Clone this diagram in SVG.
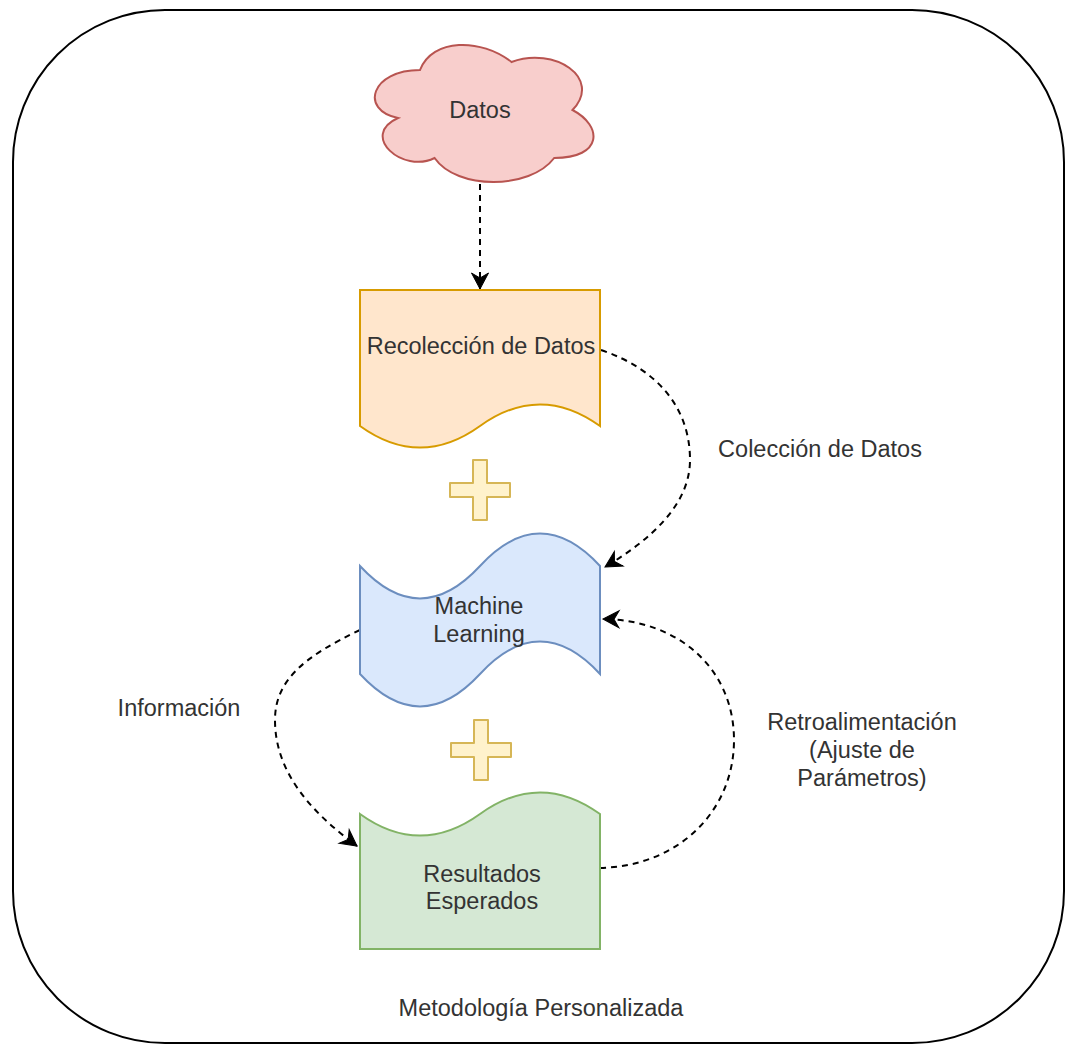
<svg xmlns="http://www.w3.org/2000/svg" width="1066" height="1044" viewBox="0 0 1066 1044">
<style>
  .lbl { font-family: "Liberation Sans", Arial, Helvetica, sans-serif; font-size: 23.5px; fill: #333333; text-anchor: middle; }
  .conn { fill: none; stroke: #000000; stroke-width: 2; stroke-dasharray: 6 5; }
  .plus { fill: #fff2cc; stroke: #d6b656; stroke-width: 2; stroke-linejoin: round; }
</style>
<defs>
  <marker id="arr" markerUnits="userSpaceOnUse" markerWidth="22" markerHeight="22" refX="0" refY="0" viewBox="-18 -11 22 22" orient="auto">
    <path d="M0,0 L-16,-8.5 L-11,0 L-16,8.5 Z" fill="#000000" stroke="#000000" stroke-width="1"/>
  </marker>
</defs>
<rect width="1066" height="1044" fill="#ffffff"/>
<g id="container">
  <rect x="13" y="10" width="1051" height="1033" rx="152" ry="152" fill="#ffffff" stroke="#000000" stroke-width="2"/>
  <text class="lbl" x="541" y="1016">Metodología Personalizada</text>
</g>
<g id="connectors">
  <path class="conn" d="M480,184 L480,289" marker-end="url(#arr)"/>
  <path class="conn" d="M601,350 C660,370 690,410 690,460 C690,505 650,540 605,567" marker-end="url(#arr)"/>
  <path class="conn" d="M360,630 C305,656 275,680 275,720 C275,775 315,815 357,846" marker-end="url(#arr)"/>
  <path class="conn" d="M600,868 C680,866 734,810 734,740 C734,670 680,620 603,619" marker-end="url(#arr)"/>
  <text class="lbl" x="820" y="457">Colección de Datos</text>
  <text class="lbl" x="179" y="716">Información</text>
  <text class="lbl" x="862" y="730">Retroalimentación</text>
  <text class="lbl" x="862" y="758">(Ajuste de</text>
  <text class="lbl" x="862" y="786">Parámetros)</text>
</g>
<g id="datos">
  <path d="M420,70 C371.2,70 359,110 398,118 C359,135.6 402.9,174 434.6,158 C456.6,190 529.8,190 554.2,158 C603,158 603,126 572.5,110 C603,78 554.2,46 511.5,62 C481,38 432.2,38 420,70 Z" fill="#f8cecc" stroke="#b85450" stroke-width="2"/>
  <text class="lbl" x="480" y="118">Datos</text>
</g>
<g id="recoleccion">
  <path d="M360,290 L600,290 L600,426 Q540,382.8 480,426 Q420,469.2 360,426 Z" fill="#ffe6cc" stroke="#d79b00" stroke-width="2"/>
  <text class="lbl" x="481" y="354">Recolección de Datos</text>
</g>
<g id="plus1">
  <path class="plus" d="M473,460 L487,460 L487,483 L510,483 L510,497 L487,497 L487,520 L473,520 L473,497 L450,497 L450,483 L473,483 Z"/>
</g>
<g id="machine-learning">
  <path d="M360,566 Q420,630.8 480,566 Q540,501.2 600,566 L600,674 Q540,609.2 480,674 Q420,738.8 360,674 Z" fill="#dae8fc" stroke="#6c8ebf" stroke-width="2"/>
  <text class="lbl" x="479" y="614">Machine</text>
  <text class="lbl" x="479" y="642">Learning</text>
</g>
<g id="plus2">
  <path class="plus" d="M474,720 L488,720 L488,743 L511,743 L511,757 L488,757 L488,780 L474,780 L474,757 L451,757 L451,743 L474,743 Z"/>
</g>
<g id="resultados">
  <path d="M360,814 Q420,857.2 480,814 Q540,770.8 600,814 L600,949 L360,949 Z" fill="#d5e8d4" stroke="#82b366" stroke-width="2"/>
  <text class="lbl" x="482" y="882">Resultados</text>
  <text class="lbl" x="482" y="909">Esperados</text>
</g>
</svg>
